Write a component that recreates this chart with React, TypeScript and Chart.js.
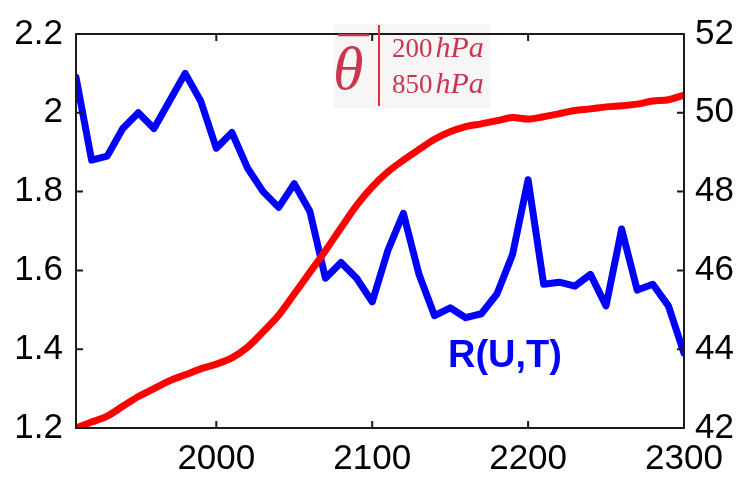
import React, { useEffect, useRef } from "react";
import { Chart, registerables } from "chart.js";

Chart.register(...registerables);

const years = [
  1910, 1920, 1930, 1940, 1950, 1960, 1970, 1980, 1990, 2000,
  2010, 2020, 2030, 2040, 2050, 2060, 2070, 2080, 2090, 2100,
  2110, 2120, 2130, 2140, 2150, 2160, 2170, 2180, 2190, 2200,
  2210, 2220, 2230, 2240, 2250, 2260, 2270, 2280, 2290, 2300,
];

const rUT = [
  2.09, 1.88, 1.89, 1.96, 2.0, 1.96, 2.03, 2.1, 2.03, 1.91,
  1.95, 1.86, 1.8, 1.76, 1.82, 1.75, 1.58, 1.62, 1.58, 1.52,
  1.65, 1.745, 1.59, 1.485, 1.505, 1.48, 1.49, 1.54, 1.64, 1.83,
  1.565, 1.57, 1.56, 1.59, 1.51, 1.705, 1.55, 1.565, 1.51, 1.39,
];

const thetaDiff = [
  42.0, 42.15, 42.3, 42.55, 42.8, 43.0, 43.2, 43.35, 43.5, 43.62,
  43.78, 44.05, 44.44, 44.86, 45.4, 45.95, 46.5, 47.08, 47.65, 48.12,
  48.5, 48.8, 49.07, 49.33, 49.52, 49.65, 49.72, 49.8, 49.88, 49.84,
  49.9, 49.98, 50.06, 50.1, 50.15, 50.18, 50.22, 50.3, 50.33, 50.45,
];

const xTicks = [2000, 2100, 2200, 2300];
const yLeftTicks = [1.2, 1.4, 1.6, 1.8, 2.0, 2.2];
const yRightTicks = [42, 44, 46, 48, 50, 52];

const TICK_FONT = { family: "'Liberation Sans', Arial, sans-serif", size: 35 };

const framePlugin = {
  id: "frame",
  beforeDatasetsDraw(chart: any) {
    const ctx = chart.ctx;
    ctx.save();
    ctx.fillStyle = "#f8f5f6";
    ctx.fillRect(334, 24, 156, 84);
    ctx.restore();
  },
  afterDatasetsDraw(chart: any) {
    const ctx = chart.ctx;
    const { left, right, top, bottom } = chart.chartArea;
    const sx = chart.scales.x;
    const sy = chart.scales.y;
    const sy1 = chart.scales.y1;
    ctx.save();
    ctx.strokeStyle = "#1a1a1a";
    ctx.lineWidth = 2;
    const tl = 7;
    ctx.beginPath();
    xTicks.forEach((v) => {
      const px = sx.getPixelForValue(v);
      ctx.moveTo(px, bottom);
      ctx.lineTo(px, bottom - tl);
      ctx.moveTo(px, top);
      ctx.lineTo(px, top + tl);
    });
    yLeftTicks.forEach((v) => {
      const py = sy.getPixelForValue(v);
      ctx.moveTo(left, py);
      ctx.lineTo(left + tl, py);
    });
    yRightTicks.forEach((v) => {
      const py = sy1.getPixelForValue(v);
      ctx.moveTo(right, py);
      ctx.lineTo(right - tl, py);
    });
    ctx.stroke();
    ctx.strokeRect(left, top, right - left, bottom - top);

    // theta annotation
    const annoColor = "#c8364f";
    ctx.fillStyle = annoColor;
    ctx.textBaseline = "alphabetic";
    ctx.textAlign = "left";
    ctx.font = "italic 62px 'Liberation Serif', 'DejaVu Serif', serif";
    ctx.fillText("θ", 333, 89);
    ctx.strokeStyle = annoColor;
    ctx.lineWidth = 2.5;
    ctx.beginPath();
    ctx.moveTo(338, 35);
    ctx.lineTo(369, 35);
    ctx.stroke();
    ctx.strokeStyle = "#e0303e";
    ctx.lineWidth = 2;
    ctx.beginPath();
    ctx.moveTo(379, 25);
    ctx.lineTo(379, 106);
    ctx.stroke();
    const drawLevel = (num: string, y: number) => {
      ctx.font = "27px 'Liberation Serif', 'DejaVu Serif', serif";
      ctx.fillText(num, 392, y);
      const w = ctx.measureText(num).width;
      ctx.font = "italic 30px 'Liberation Serif', 'DejaVu Serif', serif";
      ctx.fillText("hPa", 392 + w + 3, y);
    };
    drawLevel("200", 57);
    drawLevel("850", 93);

    // R(U,T) label
    ctx.fillStyle = "#0000ff";
    ctx.font = "bold 38px 'Liberation Sans', Arial, sans-serif";
    ctx.fillText("R(U,T)", 448, 367);
    ctx.restore();
  },
};

export default function App() {
  const canvasRef = useRef<HTMLCanvasElement | null>(null);

  useEffect(() => {
    document.body.style.margin = "0";
    const canvas = canvasRef.current;
    if (!canvas) return;
    const chart = new Chart(canvas, {
      type: "line",
      data: {
        datasets: [
          {
            label: "theta",
            data: years.map((y, i) => ({ x: y, y: thetaDiff[i] })),
            yAxisID: "y1",
            borderColor: "#ff0000",
            borderWidth: 7,
            pointRadius: 0,
            tension: 0.3,
            borderJoinStyle: "round",
            borderCapStyle: "round",
            order: 1,
          },
          {
            label: "R(U,T)",
            data: years.map((y, i) => ({ x: y, y: rUT[i] })),
            yAxisID: "y",
            borderColor: "#0000ff",
            borderWidth: 7,
            pointRadius: 0,
            tension: 0,
            borderJoinStyle: "round",
            borderCapStyle: "round",
            order: 2,
          },
        ],
      },
      options: {
        responsive: false,
        animation: false,
        layout: { padding: { top: 21, left: 0, right: 0, bottom: 0 } },
        plugins: { legend: { display: false }, tooltip: { enabled: false } },
        scales: {
          x: {
            type: "linear",
            min: 1910,
            max: 2300,
            grid: { display: false, drawTicks: false },
            border: { display: false },
            afterBuildTicks: (s: any) => {
              s.ticks = xTicks.map((v) => ({ value: v }));
            },
            afterFit: (s: any) => {
              s.height = 50;
            },
            ticks: {
              font: TICK_FONT,
              color: "#000",
              padding: 10,
              maxRotation: 0,
              autoSkip: false,
              callback: (v: any) => String(v),
            },
          },
          y: {
            position: "left",
            min: 1.2,
            max: 2.2,
            grid: { display: false, drawTicks: false },
            border: { display: false },
            afterBuildTicks: (s: any) => {
              s.ticks = yLeftTicks.map((v) => ({ value: v }));
            },
            afterFit: (s: any) => {
              s.width = 76;
            },
            ticks: {
              font: TICK_FONT,
              color: "#000",
              padding: 13,
              autoSkip: false,
              callback: (v: any) => String(Math.round(v * 10) / 10),
            },
          },
          y1: {
            position: "right",
            min: 42,
            max: 52,
            grid: { display: false, drawTicks: false },
            border: { display: false },
            afterBuildTicks: (s: any) => {
              s.ticks = yRightTicks.map((v) => ({ value: v }));
            },
            afterFit: (s: any) => {
              s.width = 57;
            },
            ticks: {
              font: TICK_FONT,
              color: "#000",
              padding: 11,
              autoSkip: false,
              callback: (v: any) => String(v),
            },
          },
        },
      },
      plugins: [framePlugin],
    });
    return () => chart.destroy();
  }, []);

  return <canvas ref={canvasRef} width={741} height={478} style={{ display: "block" }} />;
}
